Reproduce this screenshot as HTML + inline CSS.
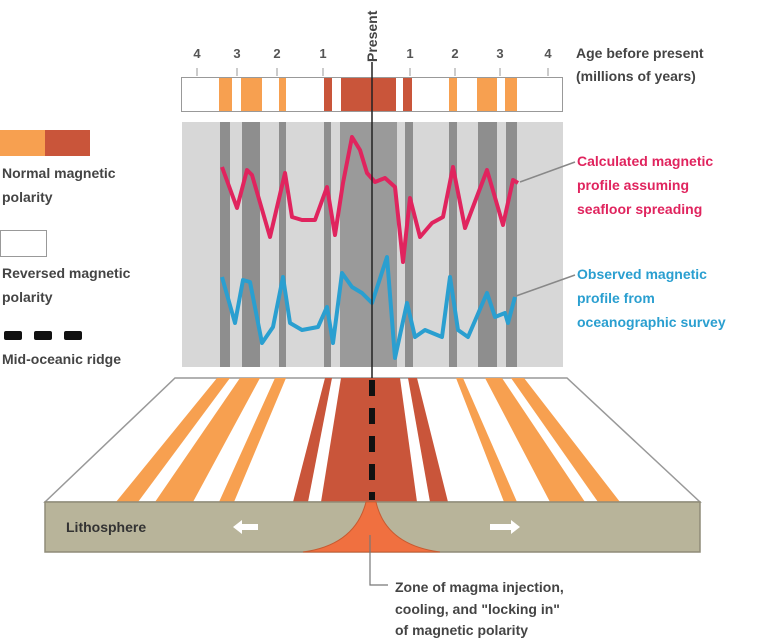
<!DOCTYPE html>
<html><head><meta charset="utf-8"><style>
html,body{margin:0;padding:0;background:#fff;}
svg{display:block;}
text{font-family:"Liberation Sans",sans-serif;font-weight:bold;}
</style></head><body>
<svg width="761" height="640" viewBox="0 0 761 640" xmlns="http://www.w3.org/2000/svg">
<!-- legend -->
<rect x="0" y="130" width="45" height="26" fill="#f7a050"/>
<rect x="45" y="130" width="45" height="26" fill="#c9553a"/>
<text x="2" y="178" font-size="14" fill="#444">Normal magnetic</text>
<text x="2" y="202" font-size="14" fill="#444">polarity</text>
<rect x="0.5" y="230.5" width="46" height="26" fill="#fff" stroke="#999"/>
<text x="2" y="278" font-size="14" fill="#444">Reversed magnetic</text>
<text x="2" y="302" font-size="14" fill="#444">polarity</text>
<rect x="4" y="331" width="18" height="9" rx="2" fill="#111"/>
<rect x="34" y="331" width="18" height="9" rx="2" fill="#111"/>
<rect x="64" y="331" width="18" height="9" rx="2" fill="#111"/>
<text x="2" y="364" font-size="14" fill="#444">Mid-oceanic ridge</text>

<!-- age labels -->
<g font-size="13" fill="#555" text-anchor="middle">
<text x="197" y="58">4</text><text x="237" y="58">3</text><text x="277" y="58">2</text><text x="323" y="58">1</text>
<text x="410" y="58">1</text><text x="455" y="58">2</text><text x="500" y="58">3</text><text x="548" y="58">4</text>
</g>
<g stroke="#999" stroke-width="1">
<line x1="197" y1="68" x2="197" y2="76"/><line x1="237" y1="68" x2="237" y2="76"/><line x1="277" y1="68" x2="277" y2="76"/><line x1="323" y1="68" x2="323" y2="76"/>
<line x1="410" y1="68" x2="410" y2="76"/><line x1="455" y1="68" x2="455" y2="76"/><line x1="500" y1="68" x2="500" y2="76"/><line x1="548" y1="68" x2="548" y2="76"/>
</g>
<text transform="translate(377,62) rotate(-90)" font-size="14" fill="#444">Present</text>
<text x="576" y="58" font-size="14" fill="#444">Age before present</text>
<text x="576" y="81" font-size="14" fill="#444">(millions of years)</text>

<!-- top bar -->
<rect x="181.5" y="77.5" width="381" height="34" fill="#fff" stroke="#999"/>
<g fill="#f7a050">
<rect x="219" y="78" width="13" height="33"/><rect x="241" y="78" width="21" height="33"/><rect x="279" y="78" width="7" height="33"/>
<rect x="449" y="78" width="8" height="33"/><rect x="477" y="78" width="20" height="33"/><rect x="505" y="78" width="12" height="33"/>
</g>
<g fill="#c9553a">
<rect x="324" y="78" width="8" height="33"/><rect x="341" y="78" width="55" height="33"/><rect x="403" y="78" width="9" height="33"/>
</g>

<!-- gray panel -->
<rect x="182" y="122" width="381" height="245" fill="#d7d7d7"/>
<g fill="#8e8e8e">
<rect x="220" y="122" width="10" height="245"/><rect x="242" y="122" width="18" height="245"/><rect x="279" y="122" width="7" height="245"/>
<rect x="324" y="122" width="7" height="245"/><rect x="340" y="122" width="57" height="245" fill="#9a9a9a"/><rect x="405" y="122" width="8" height="245"/>
<rect x="449" y="122" width="8" height="245"/><rect x="478" y="122" width="19" height="245"/><rect x="506" y="122" width="11" height="245"/>
</g>
<polyline fill="none" stroke="#e0245e" stroke-width="4" stroke-linejoin="round" points="222,167 237,208 247,170 252,175 270,237 285,173 292,217 302,220 315,220 327,187 335,235 343,183 352,137 360,150 367,173 375,182 385,178 395,187 403,262 410,198 420,237 432,223 443,217 453,167 465,228 487,170 503,225 513,180 518,183"/>
<polyline fill="none" stroke="#2a9fd0" stroke-width="4" stroke-linejoin="round" points="222,277 235,323 243,280 250,282 262,343 273,327 283,277 290,323 302,330 318,327 327,307 333,343 342,273 352,287 362,293 372,303 387,257 395,358 407,303 415,337 425,330 442,337 450,277 458,330 468,337 487,293 495,317 505,313 508,323 515,297"/>
<line x1="520" y1="182" x2="575" y2="162" stroke="#888" stroke-width="1.5"/>
<line x1="516" y1="296" x2="575" y2="275" stroke="#888" stroke-width="1.5"/>
<g font-size="14" fill="#e0245e">
<text x="577" y="166">Calculated magnetic</text><text x="577" y="190">profile assuming</text><text x="577" y="214">seafloor spreading</text>
</g>
<g font-size="14" fill="#2a9fd0">
<text x="577" y="279">Observed magnetic</text><text x="577" y="303">profile from</text><text x="577" y="327">oceanographic survey</text>
</g>

<!-- block -->
<polygon points="175,378 567,378 700,502 45,502" fill="#fff" stroke="#999" stroke-width="1.5"/>
<g fill="#f7a050">
<polygon points="217,378 230,378 138,502 116,502"/>
<polygon points="240,378 260,378 193,502 155,502"/>
<polygon points="275,378 286,378 234,502 219,502"/>
<polygon points="456,378 463,378 517,502 504,502"/>
<polygon points="485,378 502,378 585,502 550,502"/>
<polygon points="511,378 524,378 620,502 598,502"/>
</g>
<g fill="#c9553a">
<polygon points="325,378 332,378 308,502 293,502"/>
<polygon points="341,378 400,378 417,502 321,502"/>
<polygon points="408,378 417,378 448,502 430,502"/>
</g>
<line x1="372" y1="380" x2="372" y2="500" stroke="#111" stroke-width="6" stroke-dasharray="16,12"/>
<rect x="45" y="502" width="655" height="50" fill="#b8b49a" stroke="#8f8b78" stroke-width="1.5"/>
<path d="M303,552 Q355,545 366,502 L376,502 Q386,545 440,552 Z" fill="#f07040" stroke="#c85a30" stroke-width="1"/>
<text x="66" y="532" font-size="14" fill="#333">Lithosphere</text>
<polygon points="233,527 242,520 242,524 258,524 258,530 242,530 242,534" fill="#fff"/>
<polygon points="520,527 511,520 511,524 490,524 490,530 511,530 511,534" fill="#fff"/>

<!-- leader -->
<polyline points="370,535 370,585 388,585" fill="none" stroke="#777" stroke-width="1.2"/>
<g font-size="14" fill="#444">
<text x="395" y="592">Zone of magma injection,</text>
<text x="395" y="614">cooling, and "locking in"</text>
<text x="395" y="635">of magnetic polarity</text>
</g>
<line x1="372" y1="62" x2="372" y2="378" stroke="#222" stroke-width="1.5"/>
</svg>
</body></html>
